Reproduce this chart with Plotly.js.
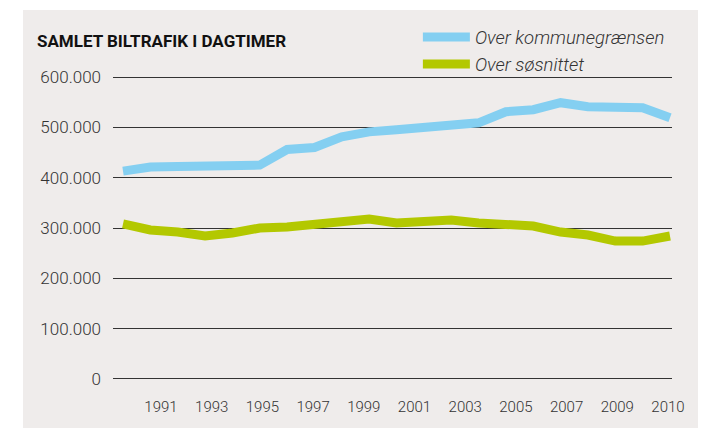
<!DOCTYPE html>
<html>
<head>
<meta charset="utf-8">
<script src="https://cdn.plot.ly/plotly-3.0.1.min.js"></script>
<style>
  html, body { margin: 0; padding: 0; background: #ffffff; }
  #chart { position: absolute; left: 23px; top: 10px; width: 675px; height: 418px; }
</style>
</head>
<body>
<div id="chart"></div>
<script>
// Data
const years = [1990, 1991, 1992, 1993, 1994, 1995, 1996, 1997, 1998, 1999, 2000,
               2001, 2002, 2003, 2004, 2005, 2006, 2007, 2008, 2009, 2010];
const overKommunegraensen = [413000, 421000, 422000, 423000, 424000, 425000, 456000, 460000, 481000, 491000, 495000,
                             499000, 503000, 509000, 531000, 535000, 549000, 541000, 540000, 539000, 519000];
const overSoesnittet = [308000, 296000, 292000, 284000, 290000, 300000, 302000, 308000, 314000, 318000, 310000,
                        314000, 316000, 310000, 308000, 304000, 292000, 286000, 274000, 274000, 284000];
const seriesNames = ["Over kommunegrænsen", "Over søsnittet"];
// Tick labels as printed under the reference axis (evenly spaced label row)
const xTickText = ["1991", "1993", "1995", "1997", "1999", "2001", "2003", "2005", "2007", "2009", "2010"];
const yTickVals = [0, 100000, 200000, 300000, 400000, 500000, 600000];
const chartTitle = "SAMLET BILTRAFIK I DAGTIMER";

const labelSlots = xTickText.map((_, i) => i);

const traces = [
  { x: years, y: overKommunegraensen, name: seriesNames[0], type: "scatter", mode: "lines",
    line: { color: "#84cff1", width: 9 } },
  { x: years, y: overSoesnittet, name: seriesNames[1], type: "scatter", mode: "lines",
    line: { color: "#b3c800", width: 9 } },
  // empty carrier so the label axis is drawn
  { x: labelSlots, y: labelSlots.map(() => null), xaxis: "x2", yaxis: "y",
    type: "scatter", mode: "lines", showlegend: false, hoverinfo: "skip",
    line: { color: "rgba(0,0,0,0)", width: 0 } }
];

const layout = {
  width: 675, height: 418,
  paper_bgcolor: "#efeceb",
  plot_bgcolor: "#efeceb",
  separators: ",.",
  margin: { l: 90, r: 26, t: 66, b: 48, pad: 0, autoexpand: false },
  title: {
    text: chartTitle,
    font: { family: "Roboto", size: 17, weight: 700, color: "#111111" },
    xref: "container", x: 0.0207, xanchor: "left",
    yref: "container", y: 0.925, yanchor: "middle"
  },
  showlegend: true,
  legend: {
    xref: "container", yref: "container",
    x: 0.585, y: 0.98, xanchor: "left", yanchor: "top",
    bgcolor: "rgba(0,0,0,0)",
    font: { family: "Roboto", size: 18.5, style: "italic", weight: 300, color: "#333333" },
    itemwidth: 47, tracegroupgap: 0
  },
  xaxis: {
    range: [1989.634, 2010.073],
    automargin: false,
    showticklabels: false,
    showgrid: false, zeroline: false, showline: false, ticks: ""
  },
  xaxis2: {
    overlaying: "x", anchor: "y", side: "bottom",
    range: [-0.947, 10.079],
    automargin: false,
    tickmode: "array", tickvals: labelSlots, ticktext: xTickText,
    tickangle: 0,
    showgrid: false, zeroline: false, showline: false, ticks: "",
    ticklabelstandoff: 16,
    tickfont: { family: "Roboto", size: 15, weight: 300, color: "#333333" }
  },
  yaxis: {
    range: [-2000, 602000],
    automargin: false,
    tickmode: "array", tickvals: yTickVals,
    tickformat: ",.0f",
    showgrid: true, gridcolor: "#333333", gridwidth: 1,
    zeroline: false, showline: false, ticks: "",
    ticklabelstandoff: 11,
    tickfont: { family: "Roboto", size: 17, weight: 300, color: "#333333" }
  }
};

Plotly.newPlot("chart", traces, layout, { staticPlot: true, displayModeBar: false });
</script>
</body>
</html>
